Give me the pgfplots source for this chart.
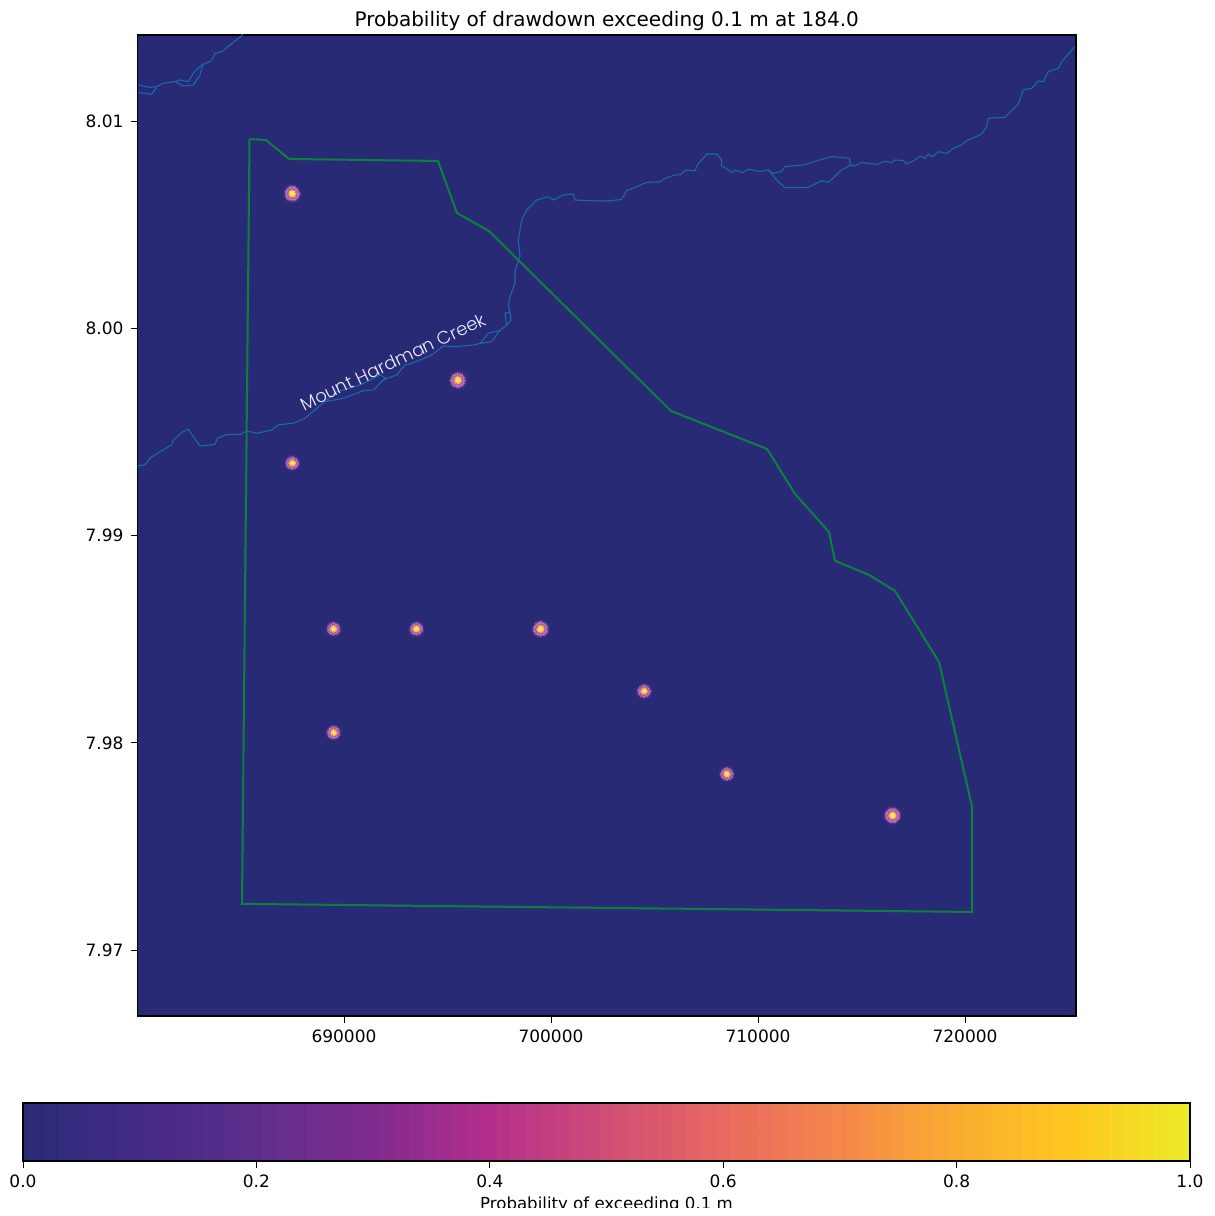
\documentclass[border=0pt]{standalone}
\usepackage{pgfplots}
\pgfplotsset{compat=1.18}
\usepackage{fontspec}
\setmainfont{DejaVu Sans}
\newfontfamily\creekfont{Poppins Light}
\definecolor{bgblue}{RGB}{41,42,118}
\definecolor{riverblue}{RGB}{26,104,172}
\definecolor{bdgreen}{RGB}{10,130,62}
\definecolor{ga}{RGB}{52,44,124}
\definecolor{gb}{RGB}{80,52,134}
\definecolor{gc}{RGB}{135,85,158}
\definecolor{gd}{RGB}{180,122,188}
\definecolor{ge}{RGB}{170,84,155}
\definecolor{gf}{RGB}{222,120,125}
\definecolor{gg}{RGB}{248,172,100}
\definecolor{gh}{RGB}{255,222,80}
\definecolor{gi}{RGB}{255,242,115}
\pgfplotstableread{
x y
687500 8.0065
695500 7.9975
699500 7.9855
716500 7.9765
}\bigwells
\pgfplotstableread{
x y
687500 7.9935
689500 7.9855
693500 7.9855
704500 7.9825
689500 7.9805
708500 7.9785
}\smallwells
% one ring of the glow round every well in a table
\newcommand{\glowring}[3]{\addplot[only marks, mark=*, mark size=#2pt, mark options={solid, draw=#3, fill=#3, line width=0pt}] table {#1};}
\begin{document}
\begin{tikzpicture}
\path[use as bounding box] (0,0) rectangle (607.5pt,608pt);
\begin{axis}[
  name=main, scale only axis, at={(68.75pt,100pt)}, anchor=south west,
  width=469.25pt, height=490.5pt,
  xmin=680024, xmax=725362, ymin=7.96682, ymax=8.01415,
  axis background/.style={fill=bgblue},
  axis line style={black, line width=0.6pt},
  xtick={690000,700000,710000,720000}, ytick={7.97,7.98,7.99,8.00,8.01},
  scaled ticks=false, tick align=outside, tickwidth=3.5pt,
  xtick pos=bottom, ytick pos=left,
  tick style={black, line width=0.45pt},
  xticklabel style={/pgf/number format/.cd, assume math mode=true, 1000 sep={}, fixed, precision=0},
  yticklabel style={/pgf/number format/.cd, assume math mode=true, fixed, fixed zerofill, precision=2},
  ticklabel style={font=\fontsize{8.5pt}{10pt}\selectfont, text=black},
  title={Probability of drawdown exceeding 0.1 m at 184.0},
  title style={font=\fontsize{10pt}{12pt}\selectfont, yshift=-7.5pt},
  clip=true,
]
% rivers
\addplot[riverblue, line width=0.55pt] coordinates {(680065,8.01174)(680628,8.01162)(680950,8.01166)(681272,8.01182)(681836,8.01190)(682077,8.01198)(682480,8.01190)(682722,8.01230)(683124,8.01270)(683607,8.01291)(683768,8.01326)(684090,8.01334)(684493,8.01367)(684976,8.01404)(685300,8.01440)};
\addplot[riverblue, line width=0.55pt] coordinates {(680065,8.01137)(680709,8.01129)(680950,8.01162)};
\addplot[riverblue, line width=0.55pt] coordinates {(681836,8.01190)(682238,8.01169)(682722,8.01174)(683044,8.01222)(683172,8.01270)};
\addplot[riverblue, line width=0.55pt] coordinates {(680024,7.99336)(680387,7.99341)(680628,7.99373)(681111,7.99405)(681675,7.99437)(681755,7.99461)(682158,7.99497)(682480,7.99513)(682722,7.99477)(683044,7.99432)(683768,7.99440)(683881,7.99469)(684332,7.99487)(684976,7.99488)(685298,7.99505)(685781,7.99493)(686506,7.99509)(686828,7.99534)(687552,7.99542)(688116,7.99566)(688680,7.99614)(689083,7.99646)(689968,7.99662)(690934,7.99699)(691417,7.99702)(691900,7.99751)(692544,7.99775)(692947,7.99823)(693269,7.99831)(693672,7.99847)(694235,7.99871)(694799,7.99915)(695282,7.99911)(696248,7.99919)(696570,7.99927)(697134,7.99936)(697536,7.99989)(697858,8.00016)(698068,8.00040)(698019,8.00080)(697939,8.00112)(698019,8.00153)(698261,8.00217)(698261,8.00281)(698503,8.00346)(698423,8.00426)(698584,8.00522)(698825,8.00571)(699308,8.00619)(699871,8.00635)(700113,8.00619)(700596,8.00643)(701079,8.00648)(701159,8.00619)(701723,8.00616)(702770,8.00614)(703414,8.00622)(703655,8.00664)(704058,8.00680)(704621,8.00704)(705265,8.00706)(705507,8.00723)(705990,8.00740)(706232,8.00740)(706522,8.00764)(706956,8.00759)(707069,8.00788)(707520,8.00841)(708003,8.00841)(708245,8.00812)(708245,8.00783)(708776,8.00751)(708889,8.00764)(709259,8.00751)(709533,8.00767)(710096,8.00756)(710499,8.00764)(710741,8.00748)(711143,8.00756)(711304,8.00780)(712190,8.00788)(713076,8.00815)(713558,8.00828)(714444,8.00820)(714444,8.00788)(714686,8.00783)(715008,8.00799)(715733,8.00791)(716135,8.00805)(716457,8.00799)(716618,8.00812)(717021,8.00809)(717150,8.00793)(717584,8.00812)(717826,8.00831)(718067,8.00820)(718228,8.00839)(718438,8.00828)(718712,8.00852)(719114,8.00844)(719517,8.00873)(719839,8.00884)(720080,8.00905)(720805,8.00937)(721046,8.00973)(721127,8.01013)(721932,8.01018)(722576,8.01082)(722817,8.01150)(723220,8.01158)(723542,8.01193)(723783,8.01190)(724025,8.01238)(724509,8.01254)(724668,8.01286)(725313,8.01359)};
\addplot[riverblue, line width=0.55pt] coordinates {(710499,8.00764)(710902,8.00715)(711304,8.00678)(712431,8.00680)(713076,8.00712)(713398,8.00704)(714042,8.00764)(714444,8.00785)};
\addplot[riverblue, line width=0.55pt] coordinates {(689083,7.99646)(689646,7.99694)(690773,7.99726)(691739,7.99775)(692029,7.99759)(691900,7.99751)};
\addplot[riverblue, line width=0.55pt] coordinates {(696570,7.99927)(696973,7.99976)(697536,7.99989)};
\addplot[riverblue, line width=0.55pt] coordinates {(697858,8.00016)(697778,8.00072)(698019,8.00080)};
% boundary
\addplot[bdgreen, line width=1pt, line join=miter] coordinates {(685435,8.00913)(686232,8.00908)(687343,8.00817)(694541,8.00807)(695459,8.00556)(697005,8.00469)(705797,7.99601)(710435,7.99418)(711788,7.99201)(713430,7.99017)(713720,7.98878)(715363,7.98810)(716619,7.98733)(718744,7.98390)(720339,7.97691)(720339,7.97184)(685072,7.97223)(685435,8.00913)};
% wells
\glowring{\bigwells}{4.6}{ga}
\glowring{\bigwells}{4.1}{gb}
\glowring{\bigwells}{3.6}{gc}
\glowring{\bigwells}{3.1}{gd}
\glowring{\bigwells}{2.6}{ge}
\glowring{\bigwells}{2.1}{gf}
\glowring{\bigwells}{1.6}{gg}
\glowring{\bigwells}{1.1}{gh}
\glowring{\bigwells}{0.6}{gi}
\glowring{\smallwells}{3.95}{ga}
\glowring{\smallwells}{3.5}{gb}
\glowring{\smallwells}{3.1}{gc}
\glowring{\smallwells}{2.65}{gd}
\glowring{\smallwells}{2.25}{ge}
\glowring{\smallwells}{1.8}{gf}
\glowring{\smallwells}{1.4}{gg}
\glowring{\smallwells}{0.95}{gh}
\glowring{\smallwells}{0.5}{gi}
\node[rotate=25.4, text=white!92!blue, font=\creekfont\fontsize{9pt}{10pt}\selectfont] at (axis cs:692370,7.99838) {Mount Hardman Creek};
\end{axis}
\begin{axis}[
  name=cbar, scale only axis, at={(11.5pt,27.5pt)}, anchor=south west,
  width=583.5pt, height=29pt,
  xmin=0, xmax=1, ymin=0, ymax=1,
  ytick=\empty, xtick={0,0.2,0.4,0.6,0.8,1},
  tick align=outside, tickwidth=3.5pt, xtick pos=bottom,
  axis line style={black, line width=0.6pt},
  tick style={black, line width=0.45pt},
  xticklabel style={/pgf/number format/.cd, assume math mode=true, fixed, fixed zerofill, precision=1},
  ticklabel style={font=\fontsize{8.5pt}{10pt}\selectfont, text=black},
  xlabel={Probability of exceeding 0.1 m},
  xlabel style={font=\fontsize{8.3pt}{10pt}\selectfont, yshift=2.5pt},
  axis on top,
  colormap={cb}{rgb255=(41,42,118) rgb255=(68,44,134) rgb255=(94,46,141) rgb255=(128,44,142) rgb255=(180,46,140) rgb255=(208,78,118) rgb255=(232,105,95) rgb255=(245,135,75) rgb255=(250,172,48) rgb255=(255,200,32) rgb255=(235,235,40)},
  point meta min=0, point meta max=1,
]
\addplot[matrix plot*, draw=mapped color, line width=0.4pt, point meta=x, mesh/cols=81, mesh/rows=2] table[row sep=\\] {
0.0000 0\\ 0.0125 0\\ 0.0250 0\\ 0.0375 0\\ 0.0500 0\\ 0.0625 0\\ 0.0750 0\\ 0.0875 0\\ 0.1000 0\\
0.1125 0\\ 0.1250 0\\ 0.1375 0\\ 0.1500 0\\ 0.1625 0\\ 0.1750 0\\ 0.1875 0\\ 0.2000 0\\
0.2125 0\\ 0.2250 0\\ 0.2375 0\\ 0.2500 0\\ 0.2625 0\\ 0.2750 0\\ 0.2875 0\\ 0.3000 0\\
0.3125 0\\ 0.3250 0\\ 0.3375 0\\ 0.3500 0\\ 0.3625 0\\ 0.3750 0\\ 0.3875 0\\ 0.4000 0\\
0.4125 0\\ 0.4250 0\\ 0.4375 0\\ 0.4500 0\\ 0.4625 0\\ 0.4750 0\\ 0.4875 0\\ 0.5000 0\\
0.5125 0\\ 0.5250 0\\ 0.5375 0\\ 0.5500 0\\ 0.5625 0\\ 0.5750 0\\ 0.5875 0\\ 0.6000 0\\
0.6125 0\\ 0.6250 0\\ 0.6375 0\\ 0.6500 0\\ 0.6625 0\\ 0.6750 0\\ 0.6875 0\\ 0.7000 0\\
0.7125 0\\ 0.7250 0\\ 0.7375 0\\ 0.7500 0\\ 0.7625 0\\ 0.7750 0\\ 0.7875 0\\ 0.8000 0\\
0.8125 0\\ 0.8250 0\\ 0.8375 0\\ 0.8500 0\\ 0.8625 0\\ 0.8750 0\\ 0.8875 0\\ 0.9000 0\\
0.9125 0\\ 0.9250 0\\ 0.9375 0\\ 0.9500 0\\ 0.9625 0\\ 0.9750 0\\ 0.9875 0\\ 1.0000 0\\
0.0000 1\\ 0.0125 1\\ 0.0250 1\\ 0.0375 1\\ 0.0500 1\\ 0.0625 1\\ 0.0750 1\\ 0.0875 1\\ 0.1000 1\\
0.1125 1\\ 0.1250 1\\ 0.1375 1\\ 0.1500 1\\ 0.1625 1\\ 0.1750 1\\ 0.1875 1\\ 0.2000 1\\
0.2125 1\\ 0.2250 1\\ 0.2375 1\\ 0.2500 1\\ 0.2625 1\\ 0.2750 1\\ 0.2875 1\\ 0.3000 1\\
0.3125 1\\ 0.3250 1\\ 0.3375 1\\ 0.3500 1\\ 0.3625 1\\ 0.3750 1\\ 0.3875 1\\ 0.4000 1\\
0.4125 1\\ 0.4250 1\\ 0.4375 1\\ 0.4500 1\\ 0.4625 1\\ 0.4750 1\\ 0.4875 1\\ 0.5000 1\\
0.5125 1\\ 0.5250 1\\ 0.5375 1\\ 0.5500 1\\ 0.5625 1\\ 0.5750 1\\ 0.5875 1\\ 0.6000 1\\
0.6125 1\\ 0.6250 1\\ 0.6375 1\\ 0.6500 1\\ 0.6625 1\\ 0.6750 1\\ 0.6875 1\\ 0.7000 1\\
0.7125 1\\ 0.7250 1\\ 0.7375 1\\ 0.7500 1\\ 0.7625 1\\ 0.7750 1\\ 0.7875 1\\ 0.8000 1\\
0.8125 1\\ 0.8250 1\\ 0.8375 1\\ 0.8500 1\\ 0.8625 1\\ 0.8750 1\\ 0.8875 1\\ 0.9000 1\\
0.9125 1\\ 0.9250 1\\ 0.9375 1\\ 0.9500 1\\ 0.9625 1\\ 0.9750 1\\ 0.9875 1\\ 1.0000 1\\
};
\end{axis}
\fill[white] (0,0) rectangle (607.5pt,3.8pt);
\end{tikzpicture}
\end{document}
